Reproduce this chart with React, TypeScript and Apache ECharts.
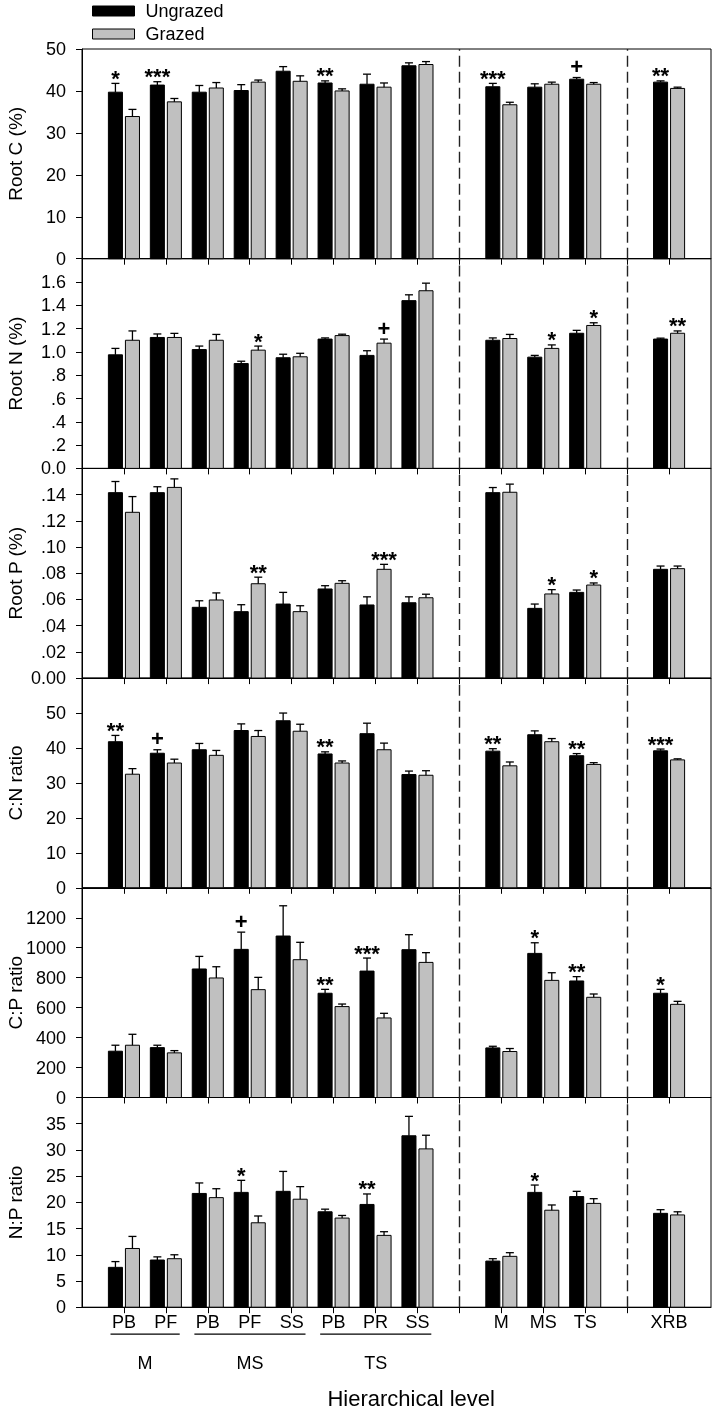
import React, { useEffect, useRef } from 'react';
import * as echarts from 'echarts';

const FONT = '"Liberation Sans", Arial, Helvetica, sans-serif';

// x positions of bar groups (value axis 0..15); 9 and 13 are the dashed separators
const xPos = [1, 2, 3, 4, 5, 6, 7, 8, 10, 11, 12, 14];
const categories = ['PB', 'PF', 'PB', 'PF', 'SS', 'PB', 'PR', 'SS', 'M', 'MS', 'TS', 'XRB'];
const tickVals = [1, 2, 3, 4, 5, 6, 7, 8, 9, 10, 11, 12, 13, 14];
const separators = [9, 13];
const groupNames = ['M', 'MS', 'TS'];
const groupStart = [1, 3, 6];
const groupEnd = [2, 5, 8];

// Root C (%)
const rootC_U = [39.7, 41.4, 39.7, 40.1, 44.7, 41.9, 41.6, 46.0, 41.0, 40.9, 42.8, 42.1];
const rootC_Ue = [2.1, 0.8, 1.6, 1.4, 1.1, 0.5, 2.4, 0.7, 0.8, 0.8, 0.4, 0.3];
const rootC_G = [33.9, 37.4, 40.7, 42.1, 42.3, 40.0, 40.9, 46.3, 36.7, 41.6, 41.6, 40.6];
const rootC_Ge = [1.7, 0.8, 1.3, 0.5, 1.3, 0.5, 1.0, 0.7, 0.6, 0.5, 0.4, 0.3];
const rootC_sigU = ['*', '***', '', '', '', '**', '', '', '***', '', '+', '**'];
const rootC_sigG = ['', '', '', '', '', '', '', '', '', '', '', ''];

// Root N (%)
const rootN_U = [0.975, 1.124, 1.02, 0.9, 0.95, 1.11, 0.97, 1.44, 1.1, 0.955, 1.16, 1.11];
const rootN_Ue = [0.055, 0.03, 0.03, 0.02, 0.03, 0.01, 0.04, 0.05, 0.02, 0.015, 0.025, 0.008];
const rootN_G = [1.1, 1.124, 1.1, 1.015, 0.958, 1.14, 1.075, 1.525, 1.115, 1.03, 1.227, 1.16];
const rootN_Ge = [0.08, 0.035, 0.05, 0.035, 0.03, 0.012, 0.035, 0.065, 0.035, 0.03, 0.023, 0.02];
const rootN_sigU = ['', '', '', '', '', '', '', '', '', '', '', ''];
const rootN_sigG = ['', '', '', '*', '', '', '+', '', '', '*', '*', '**'];

// Root P (%)
const rootP_U = [0.1415, 0.1415, 0.054, 0.0507, 0.0565, 0.068, 0.0558, 0.0575, 0.1415, 0.0532, 0.0654, 0.083];
const rootP_Ue = [0.0085, 0.0045, 0.005, 0.0053, 0.0089, 0.0025, 0.0062, 0.0045, 0.0039, 0.0033, 0.0018, 0.0025];
const rootP_G = [0.1265, 0.1455, 0.0596, 0.072, 0.0507, 0.0723, 0.083, 0.0613, 0.1418, 0.0642, 0.071, 0.0835];
const rootP_Ge = [0.012, 0.0065, 0.0054, 0.005, 0.0045, 0.002, 0.0038, 0.0027, 0.0062, 0.0033, 0.0016, 0.002];
const rootP_sigU = ['', '', '', '', '', '', '', '', '', '', '', ''];
const rootP_sigG = ['', '', '', '**', '', '', '***', '', '', '*', '*', ''];

// C:N ratio
const cn_U = [41.8, 38.5, 39.5, 45.0, 47.8, 38.3, 44.1, 32.4, 39.1, 43.8, 37.8, 39.2];
const cn_Ue = [1.8, 1.0, 1.8, 1.9, 2.2, 0.6, 3.0, 1.0, 0.7, 1.1, 0.6, 0.5];
const cn_G = [32.5, 35.7, 37.9, 43.3, 44.8, 35.7, 39.5, 32.2, 34.9, 41.8, 35.3, 36.6];
const cn_Ge = [1.6, 1.1, 1.4, 1.7, 2.0, 0.6, 1.9, 1.3, 1.1, 0.9, 0.5, 0.3];
const cn_sigU = ['**', '+', '', '', '', '**', '', '', '**', '', '**', '***'];
const cn_sigG = ['', '', '', '', '', '', '', '', '', '', '', ''];

// C:P ratio
const cp_U = [309, 333, 858, 989, 1078, 696, 844, 987, 331, 962, 778, 696];
const cp_Ue = [40, 16, 84, 115, 202, 26, 87, 100, 11, 71, 29, 26];
const cp_G = [349, 298, 798, 720, 920, 607, 531, 902, 307, 782, 669, 622];
const cp_Ge = [73, 15, 75, 82, 116, 17, 31, 65, 20, 51, 22, 20];
const cp_sigU = ['', '', '', '+', '', '**', '***', '', '', '*', '**', '*'];
const cp_sigG = ['', '', '', '', '', '', '', '', '', '', '', ''];

// N:P ratio
const np_U = [7.6, 9.0, 21.7, 21.9, 22.1, 18.2, 19.6, 32.7, 8.8, 21.9, 21.1, 17.9];
const np_Ue = [1.1, 0.6, 2.0, 2.3, 3.8, 0.5, 2.0, 3.7, 0.45, 1.4, 1.0, 0.7];
const np_G = [11.2, 9.25, 20.9, 16.1, 20.6, 17.0, 13.7, 30.2, 9.7, 18.5, 19.8, 17.6];
const np_Ge = [2.3, 0.75, 1.7, 1.3, 2.4, 0.5, 0.7, 2.6, 0.7, 1.0, 0.9, 0.6];
const np_sigU = ['', '', '', '*', '', '', '**', '', '', '*', '', ''];
const np_sigG = ['', '', '', '', '', '', '', '', '', '', '', ''];

const dotFmt = (d: number) => (v: number) => {
  if (Math.abs(v) < 1e-9) return (0).toFixed(d);
  const s = v.toFixed(d);
  return v < 1 ? s.slice(1) : s;
};
const intFmt = (v: number) => String(Math.round(v));

const panels = [
  { name: 'Root C (%)', max: 50, interval: 10, fmt: intFmt, u: rootC_U, ue: rootC_Ue, g: rootC_G, ge: rootC_Ge, su: rootC_sigU, sg: rootC_sigG },
  { name: 'Root N (%)', max: 1.8, interval: 0.2, fmt: dotFmt(1), u: rootN_U, ue: rootN_Ue, g: rootN_G, ge: rootN_Ge, su: rootN_sigU, sg: rootN_sigG },
  { name: 'Root P (%)', max: 0.16, interval: 0.02, fmt: dotFmt(2), u: rootP_U, ue: rootP_Ue, g: rootP_G, ge: rootP_Ge, su: rootP_sigU, sg: rootP_sigG },
  { name: 'C:N ratio', max: 60, interval: 10, fmt: intFmt, u: cn_U, ue: cn_Ue, g: cn_G, ge: cn_Ge, su: cn_sigU, sg: cn_sigG },
  { name: 'C:P ratio', max: 1400, interval: 200, fmt: intFmt, u: cp_U, ue: cp_Ue, g: cp_G, ge: cp_Ge, su: cp_sigU, sg: cp_sigG },
  { name: 'N:P ratio', max: 40, interval: 5, fmt: intFmt, u: np_U, ue: np_Ue, g: np_G, ge: np_Ge, su: np_sigU, sg: np_sigG },
];

const GRID_LEFT = 82;
const GRID_RIGHT = 5;
const GRID_TOP = 49;
const PANEL_H = 209.7;
const LABEL_SIZE = 18;
const NAME_SIZE = 19;
const BLACK = '#000000';
const GRAY = '#c0c0c0';

function makeRender(sign: number, fill: string, sigs: string[]) {
  return (params: any, api: any) => {
    const x = api.value(0);
    const v = api.value(1);
    const e = api.value(2);
    const unit = api.size([1, 0])[0];
    const w = unit * 0.335;
    const basePt = api.coord([x, 0]);
    const cx = basePt[0] + sign * unit * 0.203;
    const base = basePt[1];
    const top = api.coord([x, v])[1];
    const errTop = api.coord([x, v + e])[1];
    const cap = 8;
    const children: any[] = [
      { type: 'rect', shape: { x: cx - w / 2, y: top, width: w, height: base - top }, style: { fill, stroke: BLACK, lineWidth: 1 } },
      { type: 'line', shape: { x1: cx, y1: top, x2: cx, y2: errTop }, style: { stroke: BLACK, lineWidth: 1.3 } },
      { type: 'line', shape: { x1: cx - cap / 2, y1: errTop, x2: cx + cap / 2, y2: errTop }, style: { stroke: BLACK, lineWidth: 1.3 } },
    ];
    const s = sigs[params.dataIndex];
    if (s) {
      const dy = s.indexOf('*') >= 0 ? 5 : 11;
      children.push({
        type: 'text',
        x: cx,
        y: errTop - dy,
        style: {
          text: s, fill: BLACK, fontSize: 22, fontWeight: 'bold', fontFamily: FONT,
          align: 'center', verticalAlign: 'middle', textAlign: 'center', textVerticalAlign: 'middle',
        },
      });
    }
    return { type: 'group', children };
  };
}

function buildOption() {
  const last = panels.length - 1;
  const grid = panels.map((_, i) => ({
    left: GRID_LEFT, right: GRID_RIGHT, top: GRID_TOP + i * PANEL_H, height: PANEL_H,
    containLabel: false, outerBoundsMode: 'none',
    show: true, borderColor: BLACK, borderWidth: 1, backgroundColor: 'transparent',
  }));
  const xAxis = panels.map((_, i) => ({
    type: 'value', gridIndex: i, min: 0, max: 15, interval: 1,
    axisLine: { show: true, onZero: false, lineStyle: { color: BLACK, width: 1 } },
    axisTick: { show: true, inside: false, length: 6, customValues: tickVals, lineStyle: { color: BLACK, width: 1 } },
    axisLabel: {
      show: i === last, customValues: xPos, margin: 6, fontSize: LABEL_SIZE, color: BLACK, fontFamily: FONT,
      formatter: (v: number) => { const k = xPos.indexOf(Math.round(v)); return k >= 0 ? categories[k] : ''; },
    },
    splitLine: { show: false },
  }));
  const yAxis = panels.map((p, i) => ({
    type: 'value', gridIndex: i, min: 0, max: p.max, interval: p.interval,
    axisLine: { show: true, lineStyle: { color: BLACK, width: 1 } },
    axisTick: { show: true, inside: false, length: 6, lineStyle: { color: BLACK, width: 1 } },
    axisLabel: {
      showMaxLabel: i === 0, showMinLabel: true, margin: 16, fontSize: LABEL_SIZE, color: BLACK, fontFamily: FONT,
      formatter: (v: number) => p.fmt(v),
    },
    splitLine: { show: false },
    name: p.name, nameLocation: 'middle', nameGap: 57, nameRotate: 90, nameMoveOverlap: false,
    nameTextStyle: { fontSize: NAME_SIZE, color: BLACK, fontFamily: FONT },
  }));
  const series: any[] = [];
  panels.forEach((p, i) => {
    series.push({
      type: 'custom', name: 'Ungrazed', xAxisIndex: i, yAxisIndex: i, clip: false,
      itemStyle: { color: BLACK },
      encode: { x: 0, y: 1 },
      data: xPos.map((x, k) => [x, p.u[k], p.ue[k]]),
      renderItem: makeRender(-1, BLACK, p.su),
      markLine: {
        silent: true, symbol: 'none', label: { show: false },
        lineStyle: { type: [11, 5], color: '#222222', width: 1.4 },
        data: separators.map((s) => ({ xAxis: s })),
      },
    });
    series.push({
      type: 'custom', name: 'Grazed', xAxisIndex: i, yAxisIndex: i, clip: false,
      itemStyle: { color: GRAY, borderColor: BLACK, borderWidth: 1 },
      encode: { x: 0, y: 1 },
      data: xPos.map((x, k) => [x, p.g[k], p.ge[k]]),
      renderItem: makeRender(1, GRAY, p.sg),
    });
  });
  return {
    animation: false,
    textStyle: { fontFamily: FONT },
    legend: {
      orient: 'vertical', left: 92, top: 2, padding: 0, itemGap: 5, itemWidth: 42, itemHeight: 10,
      selectedMode: false,
      textStyle: { fontSize: LABEL_SIZE, color: BLACK, fontFamily: FONT, padding: [0, 0, 0, 6] },
      data: [
        { name: 'Ungrazed', icon: 'rect', itemStyle: { color: BLACK, borderColor: BLACK, borderWidth: 1 } },
        { name: 'Grazed', icon: 'rect', itemStyle: { color: GRAY, borderColor: BLACK, borderWidth: 1 } },
      ],
    },
    grid, xAxis, yAxis, series,
  };
}

export default function App() {
  const ref = useRef<HTMLDivElement>(null);
  useEffect(() => {
    const chart = echarts.init(ref.current!, null, { renderer: 'svg' });
    chart.setOption(buildOption() as any);
    const gi = panels.length - 1;
    const px = (x: number) => chart.convertToPixel({ xAxisIndex: gi, yAxisIndex: gi } as any, [x, 0]) as number[];
    const graphics: any[] = [];
    groupNames.forEach((n, k) => {
      const a = px(groupStart[k] - 0.32);
      const b = px(groupEnd[k] + 0.33);
      const ly = a[1] + 27;
      graphics.push({ type: 'line', shape: { x1: a[0], y1: ly, x2: b[0], y2: ly }, style: { stroke: BLACK, lineWidth: 1.2 } });
      graphics.push({
        type: 'text', x: (a[0] + b[0]) / 2, y: a[1] + 56,
        style: { text: n, fill: BLACK, fontSize: LABEL_SIZE, fontFamily: FONT, align: 'center', verticalAlign: 'middle', textAlign: 'center', textVerticalAlign: 'middle' },
      });
    });
    const mid = px(7.85);
    graphics.push({
      type: 'text', x: mid[0], y: mid[1] + 91,
      style: { text: 'Hierarchical level', fill: BLACK, fontSize: 22, fontFamily: FONT, align: 'center', verticalAlign: 'middle', textAlign: 'center', textVerticalAlign: 'middle' },
    });
    chart.setOption({ graphic: graphics });
    return () => chart.dispose();
  }, []);
  return <div ref={ref} style={{ position: 'fixed', left: 0, top: 0, width: 716, height: 1412 }} />;
}
